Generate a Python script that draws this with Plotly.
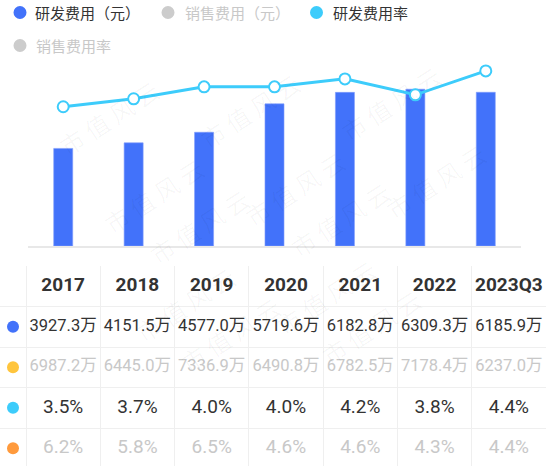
import plotly.graph_objects as go

# ---------------- data ----------------
years = ["2017", "2018", "2019", "2020", "2021", "2022", "2023Q3"]
rd_expense = [3927.3, 4151.5, 4577.0, 5719.6, 6182.8, 6309.3, 6185.9]      # 万
sales_expense = [6987.2, 6445.0, 7336.9, 6490.8, 6782.5, 7178.4, 6237.0]   # 万
rd_rate = [3.5, 3.7, 4.0, 4.0, 4.2, 3.8, 4.4]                               # %
sales_rate = [6.2, 5.8, 6.5, 4.6, 4.6, 4.3, 4.4]                            # %

series_names = ["研发费用（元）", "销售费用（元）", "研发费用率", "销售费用率"]
series_colors = ["#4272FA", "#FFC53D", "#3DCCFB", "#FF9A3C"]
series_active = [True, False, True, False]

# ---------------- layout helpers ----------------
W, H = 550, 466
def px(x):
    return x / W
def py(y):
    return 1 - y / H

TEXT = "#333333"
MUTED = "#c8c8c8"
GRID = "#efefef"
NUMFONT = "Roboto, 'Noto Sans CJK SC', sans-serif"

fig = go.Figure()

# ---------------- chart ----------------
fig.add_trace(go.Bar(
    x=years, y=rd_expense, name=series_names[0],
    marker=dict(color=series_colors[0], line=dict(color="#7f9cfb", width=0.6)),
    width=0.27, xaxis="x", yaxis="y", showlegend=False, hoverinfo="skip",
))
fig.add_trace(go.Bar(
    x=years, y=sales_expense, name=series_names[1],
    marker=dict(color=series_colors[1]), visible=False, showlegend=False,
))
fig.add_trace(go.Scatter(
    x=years, y=rd_rate, name=series_names[2], xaxis="x", yaxis="y2",
    mode="lines+markers",
    line=dict(color=series_colors[2], width=3),
    marker=dict(size=11, color="white", line=dict(color=series_colors[2], width=2)),
    showlegend=False, hoverinfo="skip",
))
fig.add_trace(go.Scatter(
    x=years, y=sales_rate, name=series_names[3], xaxis="x", yaxis="y2",
    mode="lines+markers", line=dict(color=series_colors[3]),
    visible=False, showlegend=False,
))

# ---------------- data table (own subplot: x2 / y3) ----------------
col_idx = list(range(len(years)))
fig.add_trace(go.Scatter(
    x=col_idx, y=[0] * len(years), mode="text",
    text=[f"<b>{y}</b>" for y in years],
    textfont=dict(family=NUMFONT, size=19, color=TEXT),
    xaxis="x2", yaxis="y3", showlegend=False, hoverinfo="skip",
))
row_data = [rd_expense, sales_expense, rd_rate, sales_rate]
row_is_pct = [False, False, True, True]
for r, (vals, pct, act) in enumerate(zip(row_data, row_is_pct, series_active), start=1):
    txt = [f"{v:.1f}%" if pct else f"{v:.1f}万" for v in vals]
    fig.add_trace(go.Scatter(
        x=col_idx, y=[r] * len(vals), mode="text", text=txt,
        textfont=dict(family=NUMFONT, size=19 if pct else 16.5,
                      color=TEXT if act else MUTED),
        xaxis="x2", yaxis="y3", showlegend=False, hoverinfo="skip",
    ))
DOT_COL = -0.5 - 13 / 74.3
fig.add_trace(go.Scatter(
    x=[DOT_COL] * 4, y=[1, 2, 3, 4], mode="markers",
    marker=dict(size=12, color=series_colors, line=dict(width=0)),
    xaxis="x2", yaxis="y3", showlegend=False, hoverinfo="skip",
))

# ---------------- custom legend ----------------
legend_items = [(20, 12.5, 33), (168, 12.5, 183), (316.5, 12.5, 331), (20, 45.5, 34)]
shapes = []
annotations = []
for (cx, cy, tx), name, col, act in zip(legend_items, series_names, series_colors, series_active):
    r = 6.5
    shapes.append(dict(type="circle", xref="paper", yref="paper",
                       x0=px(cx - r), x1=px(cx + r), y0=py(cy + r), y1=py(cy - r),
                       fillcolor=col if act else "#cccccc", line=dict(width=0)))
    annotations.append(dict(text=name, x=px(tx), y=py(cy), xref="paper", yref="paper",
                            xanchor="left", yanchor="middle", showarrow=False,
                            font=dict(family="'Noto Sans CJK SC', sans-serif", size=15,
                                      color=TEXT if act else MUTED)))

# ---------------- watermark ----------------
for i in range(-2, 4):
    for j in range(-1, 7):
        cx = 50 + 200 * i + 45 * j
        cy = 70 - 7 * i + 78 * j
        if 45 <= cx <= W - 45 and 35 <= cy <= H - 35:
            annotations.append(dict(text="市 值 风 云", x=px(cx), y=py(cy), xref="paper", yref="paper",
                                    showarrow=False, textangle=-33,
                                    font=dict(family="'Noto Sans CJK SC', sans-serif", size=24,
                                              color="rgba(0,0,0,0.035)")))

ROW_H = 40.5
TABLE_TOP = 266
fig.update_layout(
    width=W, height=H,
    margin=dict(l=0, r=0, t=0, b=0),
    paper_bgcolor="white", plot_bgcolor="white",
    showlegend=False,
    barmode="overlay",
    xaxis=dict(domain=[px(28), px(521)], type="category", range=[-0.5, 6.5],
               showticklabels=False, showgrid=False, zeroline=False,
               showline=True, linecolor="#e8e8e8", linewidth=2, ticks="", fixedrange=True),
    yaxis=dict(domain=[py(246), py(62)], range=[0, 184 / 0.02485], visible=False, fixedrange=True),
    yaxis2=dict(domain=[py(246), py(62)], overlaying="y", range=[0, 184 / 39.79],
                visible=False, fixedrange=True),
    xaxis2=dict(domain=[0, 546 / W], anchor="y3", range=[-0.5 - 26 / 74.3, 6.5],
                tickvals=[k - 0.5 for k in range(len(years) + 1)],
                showgrid=True, gridcolor=GRID, gridwidth=1,
                showticklabels=False, zeroline=False, showline=False, ticks="", fixedrange=True),
    yaxis3=dict(domain=[0, py(TABLE_TOP)], anchor="x2",
                range=[-0.5 + (H - TABLE_TOP) / ROW_H, -0.5],
                tickvals=[-0.5, 0.5, 1.5, 2.5, 3.5],
                showgrid=True, gridcolor=GRID, gridwidth=1,
                showticklabels=False, zeroline=False, showline=False, ticks="", fixedrange=True),
    shapes=shapes,
    annotations=annotations,
    font=dict(family=NUMFONT, color=TEXT),
)

fig.write_html("out.html", config={"displayModeBar": False},
               post_script="document.body.style.margin='0';")
